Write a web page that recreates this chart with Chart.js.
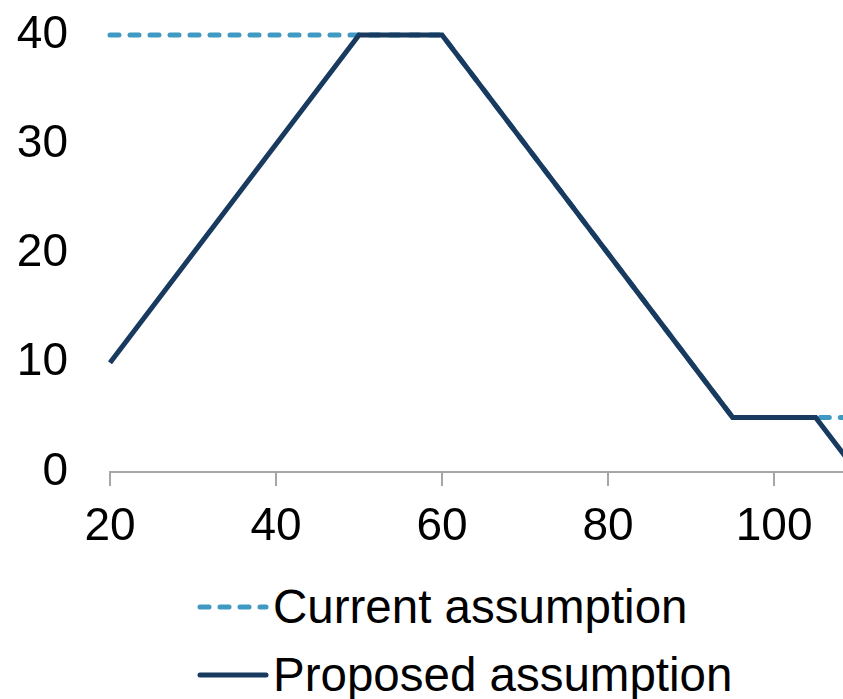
<!DOCTYPE html>
<html>
<head>
<meta charset="utf-8">
<script src="https://cdn.jsdelivr.net/npm/chart.js"></script>
<style>
  html, body { margin: 0; padding: 0; background: #fff; overflow: hidden; }
  #wrap { position: relative; width: 843px; height: 699px; }
  #chart { position: absolute; left: 0; top: 0; }
  .leg { position: absolute; left: 197px; font-family: "Liberation Sans", Arial, sans-serif; font-size: 47.5px; color: #000; white-space: nowrap; display: flex; align-items: center; }
  .leg svg { margin-right: 2px; }
</style>
</head>
<body>
<div id="wrap">
  <canvas id="chart" width="843" height="540"></canvas>
  <div class="leg" id="leg1" style="top:579px"></div>
  <div class="leg" id="leg2" style="top:647px"></div>
</div>
<script>
const seriesNames = ['Current assumption', 'Proposed assumption'];
const currentX = [20, 60, 95, 110];
const currentY = [40, 40, 5, 5];
const proposedX = [20, 50, 60, 95, 105, 110];
const proposedY = [10, 40, 40, 5, 5, 0];
const xTicks = [20, 40, 60, 80, 100];
const yTicks = [0, 10, 20, 30, 40];

const currentColor = '#3f99c3';
const proposedColor = '#183a5e';
const font = { family: '"Liberation Sans", Arial, sans-serif', size: 46 };

const ctx = document.getElementById('chart').getContext('2d');

new Chart(ctx, {
  type: 'line',
  data: {
    datasets: [
      {
        label: seriesNames[1],
        data: proposedX.map((x, i) => ({ x, y: proposedY[i] })),
        borderColor: proposedColor,
        borderWidth: 5,
        pointRadius: 0,
        tension: 0,
        clip: false,
        order: 1,
      },
      {
        label: seriesNames[0],
        data: currentX.map((x, i) => ({ x, y: currentY[i] })),
        borderColor: currentColor,
        borderWidth: 5,
        borderDash: [9, 11],
        borderCapStyle: 'round',
        pointRadius: 0,
        tension: 0,
        clip: false,
        order: 2,
      },
    ],
  },
  options: {
    responsive: false,
    animation: false,
    layout: { padding: { top: 35, right: 0, bottom: 0, left: 0 } },
    plugins: { legend: { display: false }, tooltip: { enabled: false } },
    scales: {
      x: {
        type: 'linear',
        min: 20,
        max: 108.3,
        afterBuildTicks: (s) => { s.ticks = xTicks.map(v => ({ value: v })); },
        afterFit: (s) => { s.height = 68; s.paddingLeft = 0; s.paddingRight = 0; },
        border: { display: true, color: '#a6a6a6', width: 2 },
        grid: { drawOnChartArea: false, drawTicks: true, tickLength: 14, color: '#a6a6a6', lineWidth: 2 },
        ticks: { font, color: '#000', padding: 14, maxRotation: 0 },
      },
      y: {
        min: 0,
        max: 40,
        afterBuildTicks: (s) => { s.ticks = yTicks.map(v => ({ value: v })); },
        afterFit: (s) => { s.width = 110; s.paddingTop = 0; s.paddingBottom = 0; },
        border: { display: false },
        grid: { display: false, drawTicks: false },
        ticks: { font, color: '#000', padding: 42 },
      },
    },
  },
});

function legendItem(el, name, color, dashed) {
  el.innerHTML =
    '<svg width="74" height="10"><line x1="3" y1="5" x2="69" y2="5" stroke="' + color +
    '" stroke-width="5" stroke-linecap="round"' + (dashed ? ' stroke-dasharray="9 11"' : '') +
    '/></svg><span></span>';
  el.querySelector('span').textContent = name;
}
legendItem(document.getElementById('leg1'), seriesNames[0], currentColor, true);
legendItem(document.getElementById('leg2'), seriesNames[1], proposedColor, false);
</script>
</body>
</html>
